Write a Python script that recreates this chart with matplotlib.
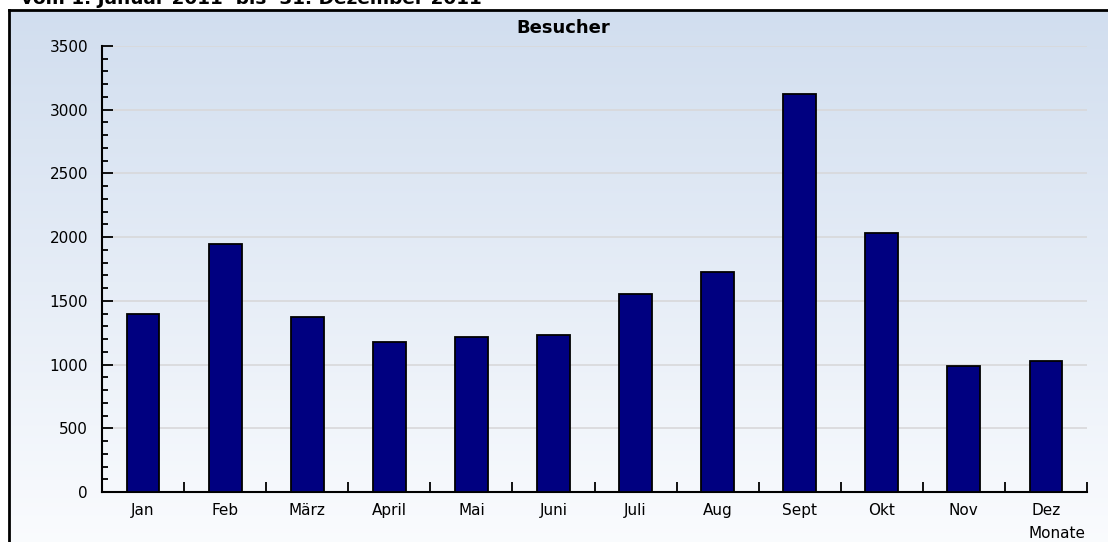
import numpy as np
import matplotlib
matplotlib.use("Agg")
import matplotlib.pyplot as plt
from matplotlib.ticker import MultipleLocator, FixedLocator

months = ["Jan", "Feb", "März", "April", "Mai", "Juni", "Juli", "Aug",
          "Sept", "Okt", "Nov", "Dez"]
besucher = [1400, 1950, 1375, 1175, 1217, 1230, 1555, 1725, 3120, 2035, 990, 1030]
y_ticks = [0, 500, 1000, 1500, 2000, 2500, 3000, 3500]

W, H = 1108, 542
fig = plt.figure(figsize=(W / 100, H / 100), dpi=100)
fig.patch.set_facecolor("white")

# ── panel with vertical gradient ──────────────────────────────────────────────
px0, py_top = 9, 10
bg = fig.add_axes([px0 / W, 0, 1 - px0 / W, 1 - py_top / H])
top_c = np.array([0.820, 0.870, 0.937])
bot_c = np.array([0.980, 0.986, 0.996])
t = np.linspace(0, 1, 256)[:, None]
grad = top_c * (1 - t[..., None]) + bot_c * t[..., None]
grad = np.repeat(grad, 2, axis=1)
bg.imshow(grad, aspect="auto", extent=[0, 1, 0, 1], origin="upper")
bg.set_xlim(0, 1)
bg.set_ylim(0, 1)
bg.set_xticks([])
bg.set_yticks([])
for side in ["right", "bottom"]:
    bg.spines[side].set_visible(False)
bg.spines["top"].set_linewidth(2)
bg.spines["left"].set_linewidth(2)

# ── main bar axes ─────────────────────────────────────────────────────────────
ax = fig.add_axes([102 / W, 1 - 492 / H, (1087 - 102) / W, (492 - 46) / H])
ax.set_facecolor("none")
x = np.arange(len(months))
ax.bar(x, besucher, width=0.4, color="#000080", edgecolor="black",
       linewidth=1.3, zorder=3)

ax.set_xlim(-0.5, len(months) - 0.5)
ax.set_ylim(0, 3500)
ax.set_yticks(y_ticks)
ax.yaxis.set_minor_locator(MultipleLocator(100))
ax.tick_params(axis="y", which="major", direction="in", length=8, width=1.3,
               labelsize=11, pad=10, colors="black")
ax.tick_params(axis="y", which="minor", direction="in", length=4.5, width=1.3)

ax.xaxis.set_major_locator(FixedLocator(x + 0.5))
ax.xaxis.set_minor_locator(FixedLocator(x))
ax.xaxis.set_major_formatter(plt.NullFormatter())
ax.set_xticklabels(months, minor=True)
ax.tick_params(axis="x", which="major", direction="in", length=7, width=1.3)
ax.tick_params(axis="x", which="minor", length=0, labelsize=11, pad=8)

ax.grid(axis="y", which="major", color="#D8D8DA", linewidth=1.2, zorder=0)
ax.set_axisbelow(True)
ax.spines[["top", "right"]].set_visible(False)
ax.spines["left"].set_linewidth(1.5)
ax.spines["bottom"].set_linewidth(1.5)

fig.text(563 / W, 1 - 28 / H, "Besucher", ha="center", va="center",
         fontsize=13, fontweight="bold")
fig.text(1086 / W, 1 - 534 / H, "Monate", ha="right", va="center", fontsize=11)
fig.text(21 / W, 1 - 4 / H, "vom 1. Januar 2011  bis  31. Dezember 2011",
         ha="left", va="baseline", fontsize=13.3, fontweight="bold")

fig.savefig("out.png", dpi=100)
